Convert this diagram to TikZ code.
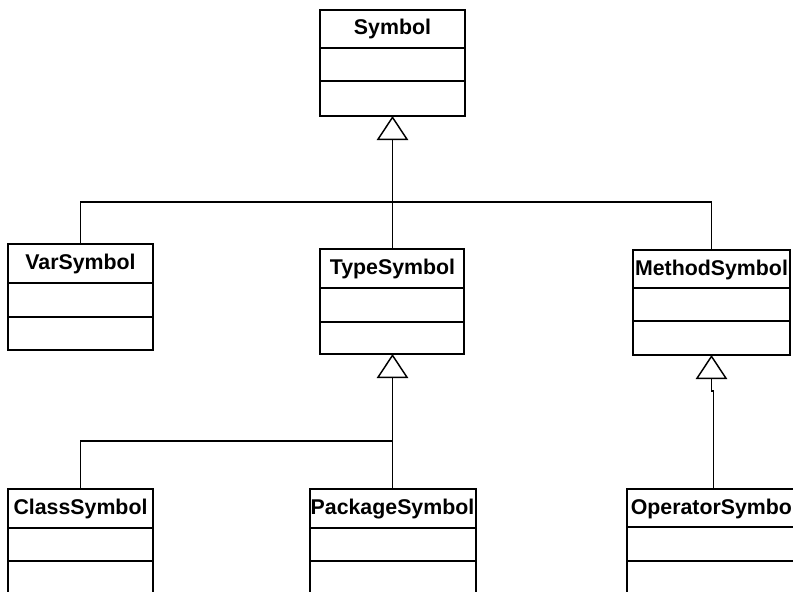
\documentclass[tikz,border=0pt]{standalone}
\usepackage{fontspec}
\setmainfont{Liberation Sans}
\usetikzlibrary{arrows.meta}

\tikzset{
  box/.style={line width=1.5pt},
  title/.style={anchor=base,inner sep=0pt,font=\fontsize{16}{19}\selectfont\bfseries},
  link/.style={line width=1pt},
  inherit/.style={line width=1pt,-{Triangle[open,length=18pt,width=23.5pt,line width=1.1pt]}}
}

\begin{document}
\begin{tikzpicture}[x=0.75pt,y=0.75pt,yscale=-1,xscale=1]
        \useasboundingbox (0,0) rectangle (793,592);
        \clip (0,0) rectangle (793,592);

        %Shape: Class [Symbol]
        \draw[box] (320,10) rectangle (465,116);
        \draw[box] (320,48) -- (465,48) (320,81) -- (465,81);
        \node[title] (symbol) at (392.5,35) {Symbol};
        \coordinate (symbolB) at (392.5,116);

        %Shape: Class [VarSymbol]
        \draw[box] (8,244) rectangle (153,350);
        \draw[box] (8,283) -- (153,283) (8,317) -- (153,317);
        \node[title] (var) at (80.5,269) {VarSymbol};
        \coordinate (varT) at (80.5,244);

        %Shape: Class [TypeSymbol]
        \draw[box] (320,249) rectangle (464,354);
        \draw[box] (320,288) -- (464,288) (320,322) -- (464,322);
        \node[title] (type) at (392.5,274) {TypeSymbol};
        \coordinate (typeT) at (392.5,249);
        \coordinate (typeB) at (392.5,354);

        %Shape: Class [MethodSymbol]
        \draw[box] (633,250) rectangle (790,355);
        \draw[box] (633,288) -- (790,288) (633,321) -- (790,321);
        \node[title] (method) at (711.5,275) {MethodSymbol};
        \coordinate (methodT) at (711.5,250);
        \coordinate (methodB) at (711.5,355);

        %Shape: Class [ClassSymbol]
        \draw[box] (8,489) rectangle (153,610);
        \draw[box] (8,528) -- (153,528) (8,561) -- (153,561);
        \node[title] (class) at (80.5,514) {ClassSymbol};
        \coordinate (classT) at (80.5,489);

        %Shape: Class [PackageSymbol]
        \draw[box] (310,489) rectangle (476,610);
        \draw[box] (310,528) -- (476,528) (310,561) -- (476,561);
        \node[title] (package) at (392.5,514) {PackageSymbol};
        \coordinate (packageT) at (392.5,489);

        %Shape: Class [OperatorSymbol]
        \draw[box] (627,489) rectangle (820,610);
        \draw[box] (627,527) -- (820,527) (627,561) -- (820,561);
        \node[title,anchor=base west] (operator) at (630.5,514) {OperatorSymbol};
        \coordinate (operatorT) at (713.5,489);

        %Connectors: Symbol
        \draw[link] (varT) -- ++(0,-42) -| (methodT);
        \draw[inherit] (typeT) -- (symbolB);

        %Connectors: TypeSymbol
        \draw[link] (classT) -- ++(0,-48) -| (packageT);
        \draw[inherit] (packageT) -- (typeB);

        %Connectors: MethodSymbol
        \coordinate (jog) at (713.5,391);
        \draw[inherit] (operatorT) -- (jog) -- ++(-2,0) -- (methodB);

\end{tikzpicture}
\end{document}
